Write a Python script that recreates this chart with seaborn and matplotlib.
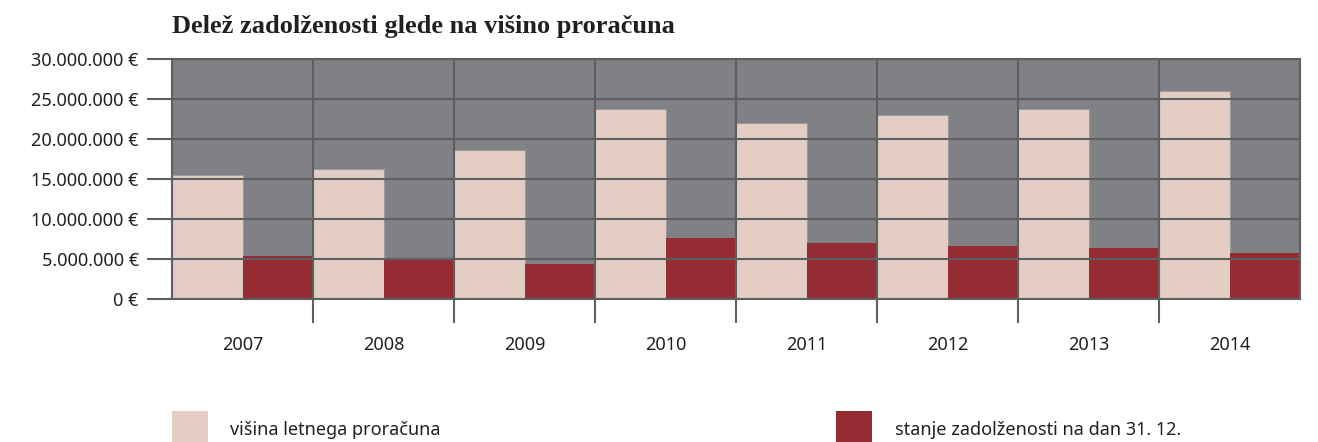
import pandas as pd
import seaborn as sns
import matplotlib.pyplot as plt
from matplotlib.patches import Rectangle
from matplotlib.ticker import FuncFormatter

# Data (EUR)
years = ["2007", "2008", "2009", "2010", "2011", "2012", "2013", "2014"]
budget = [15540000, 16290000, 18660000, 23790000, 22040000, 23040000, 23790000, 26040000]
debt = [5410000, 4910000, 4410000, 7660000, 7040000, 6660000, 6410000, 5790000]
series_names = ["višina letnega proračuna", "stanje zadolženosti na dan 31. 12."]

light = "#e4cec3"
dark = "#952c34"
bg = "#808184"
line_c = "#5e5f61"

df = pd.DataFrame({
    "leto": years * 2,
    "vrednost": budget + debt,
    "serija": [series_names[0]] * len(years) + [series_names[1]] * len(years),
})

sns.set_theme(style="white")
plt.rcParams["font.family"] = ["Noto Sans", "DejaVu Sans"]

fig = plt.figure(figsize=(13.18, 4.42), dpi=100)
ax = fig.add_axes([172 / 1318, 1 - 299 / 442, 1128 / 1318, 240 / 442])

sns.barplot(data=df, x="leto", y="vrednost", hue="serija", order=years,
            hue_order=series_names, palette=[light, dark], width=1.0,
            saturation=1, dodge=True, legend=False, ax=ax, zorder=2)

# thin grey edge on the budget bars, none on the debt bars
for i, patch in enumerate(ax.patches):
    if i < len(years):
        patch.set_edgecolor("#9a9a9c")
        patch.set_linewidth(0.8)
    else:
        patch.set_edgecolor("none")
        patch.set_linewidth(0)

ax.set_facecolor(bg)
ax.set_ylim(0, 30000000)
ax.set_xlim(-0.5, len(years) - 0.5)
ax.set_xlabel("")
ax.set_ylabel("")

# horizontal grid over the bars
yt = list(range(0, 30000001, 5000000))
ax.set_yticks(yt)
for v in yt:
    ax.axhline(v, color=line_c, lw=1.5, zorder=3)
ax.yaxis.set_major_formatter(FuncFormatter(lambda v, p: f"{int(v):,}".replace(",", ".") + " €"))
ax.tick_params(axis="y", which="major", left=True, length=18, width=1.5, color=line_c,
               pad=6, labelsize=13, labelcolor="#231f20")

# vertical separators between years, extending below the axis
for i in range(len(years) - 1):
    ax.axvline(i + 0.5, color=line_c, lw=1.5, zorder=3)
ax.set_xticks([i + 0.5 for i in range(len(years) - 1)], minor=True)
ax.tick_params(axis="x", which="minor", bottom=True, length=17, width=1.5, color=line_c)
ax.tick_params(axis="x", which="major", length=0, pad=27, labelsize=13, labelcolor="#231f20")

for s in ax.spines.values():
    s.set_color(line_c)
    s.set_linewidth(1.5)
    s.set_zorder(4)

fig.text(172 / 1318, 1 - 33 / 442, "Delež zadolženosti glede na višino proračuna",
         fontsize=19, fontweight="bold", family=["Liberation Serif", "DejaVu Serif"],
         color="#231f20", va="baseline", ha="left")

# legend
for x0, name, col, tx in [(172, series_names[0], light, 230), (836, series_names[1], dark, 895)]:
    fig.patches.append(Rectangle((x0 / 1318, -0.02), 36 / 1318, (442 - 411) / 442 + 0.02,
                                 transform=fig.transFigure, facecolor=col, edgecolor="none"))
    fig.text(tx / 1318, 1 - 435 / 442, name, fontsize=13, color="#231f20",
             va="baseline", ha="left")

fig.savefig("out.png", dpi=100)
